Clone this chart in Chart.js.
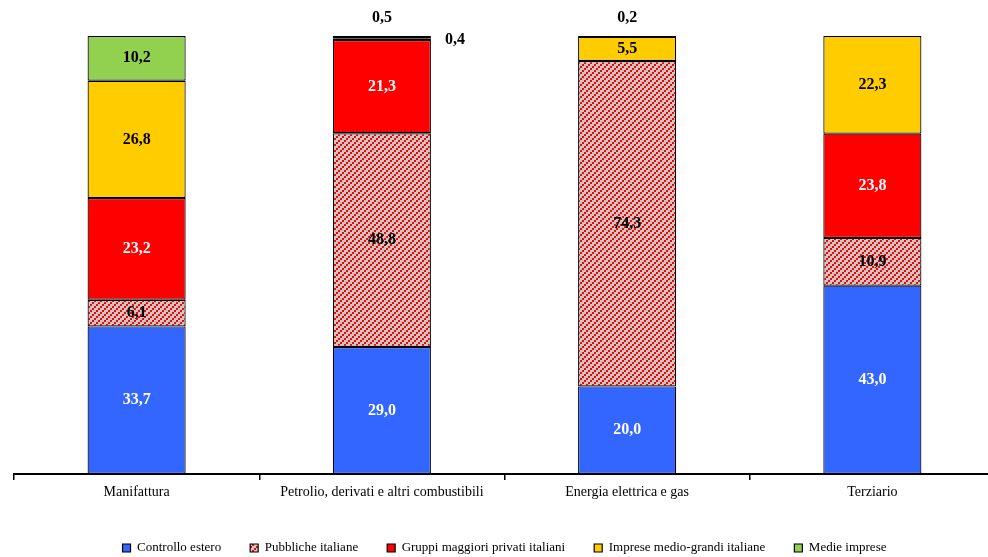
<!DOCTYPE html>
<html>
<head>
<meta charset="utf-8">
<script src="https://cdn.jsdelivr.net/npm/chart.js@4"></script>
<style>
  html, body { margin: 0; padding: 0; background: #fff; overflow: hidden; }
  #wrap { width: 995px; height: 557px; }
</style>
</head>
<body>
<div id="wrap"><canvas id="chart"></canvas></div>
<script>
const categories = ['Manifattura', 'Petrolio, derivati e altri combustibili', 'Energia elettrica e gas', 'Terziario'];
const seriesNames = ['Controllo estero', 'Pubbliche italiane', 'Gruppi maggiori privati italiani', 'Imprese medio-grandi italiane', 'Medie imprese'];
const controlloEstero = [33.7, 29.0, 20.0, 43.0];
const pubbliche = [6.1, 48.8, 74.3, 10.9];
const gruppiPrivati = [23.2, 21.3, 0, 23.8];
const impreseMedioGrandi = [26.8, 0.4, 5.5, 22.3];
const medieImprese = [10.2, 0.5, 0.2, 0];

// gray with red stepped diagonals
function makeHatch() {
    const c = document.createElement('canvas');
    c.width = 6; c.height = 6;
    const g = c.getContext('2d');
    g.fillStyle = '#C8C8C8';
    g.fillRect(0, 0, 6, 6);
    g.fillStyle = '#FF0000';
    [[4, 0], [2, 2], [0, 4]].forEach(p => g.fillRect(p[0], p[1], 2, 2));
    return g.createPattern(c, 'repeat');
}

Chart.defaults.font.family = '"Liberation Serif", "Times New Roman", serif';
Chart.defaults.color = '#000';

const valueLabels = {
    id: 'valueLabels',
    afterInit(chart) {
        // keep the legend low and thin
        const fit = chart.legend.fit;
        chart.legend.fit = function () { fit.call(this); this.height = 44.5; };
    },
    afterDatasetsDraw(chart) {
        const ctx = chart.ctx;
        ctx.save();
        ctx.font = 'bold 16px "Liberation Serif", serif';
        ctx.textAlign = 'center';
        ctx.textBaseline = 'middle';
        chart.data.datasets.forEach((ds, di) => {
            const meta = chart.getDatasetMeta(di);
            meta.data.forEach((bar, i) => {
                const v = ds.data[i];
                if (!v) return;
                const p = bar.getProps(['x', 'y', 'base', 'width'], true);
                const txt = v.toFixed(1).replace('.', ',');
                let x = p.x, y = (p.y + p.base) / 2;
                ctx.fillStyle = ds.labelColor;
                if (v < 1) {
                    const isTop = chart.data.datasets.slice(di + 1).every(d => !d.data[i]);
                    if (isTop) { y = p.y - 18; } else { x = p.x + p.width / 2 + 24; y = p.y + 2; }
                    ctx.fillStyle = '#000';
                }
                ctx.fillText(txt, x, y);
            });
        });
        ctx.restore();
    }
};

const colors = ['#3366FF', makeHatch(), '#FF0000', '#FFCC00', '#92D050'];
const labelColors = ['#fff', '#000', '#fff', '#000', '#000'];
const values = [controlloEstero, pubbliche, gruppiPrivati, impreseMedioGrandi, medieImprese];

new Chart(document.getElementById('chart'), {
    type: 'bar',
    data: {
        labels: categories,
        datasets: values.map((d, k) => ({
            label: seriesNames[k],
            data: d,
            backgroundColor: colors[k],
            borderColor: '#000',
            borderWidth: 1.2,
            borderSkipped: false,
            labelColor: labelColors[k],
            categoryPercentage: 0.8,
            barPercentage: 0.5
        }))
    },
    options: {
        responsive: true,
        maintainAspectRatio: false,
        animation: false,
        layout: { padding: { top: 36, left: 14, right: 0, bottom: 0 } },
        scales: {
            x: {
                stacked: true,
                grid: { display: true, drawOnChartArea: false, tickLength: 6, color: '#000', lineWidth: 1.5 },
                border: { display: true, color: '#000', width: 2 },
                ticks: { font: { size: 14 }, color: '#000', padding: 4 },
                afterFit(scale) { scale.height = 38.5; }
            },
            y: { stacked: true, display: false, min: 0, max: 100 }
        },
        plugins: {
            legend: {
                position: 'bottom',
                labels: { boxWidth: 8, boxHeight: 8, padding: 29, font: { size: 13 }, color: '#000' }
            },
            tooltip: { enabled: false }
        }
    },
    plugins: [valueLabels]
});
</script>
</body>
</html>
